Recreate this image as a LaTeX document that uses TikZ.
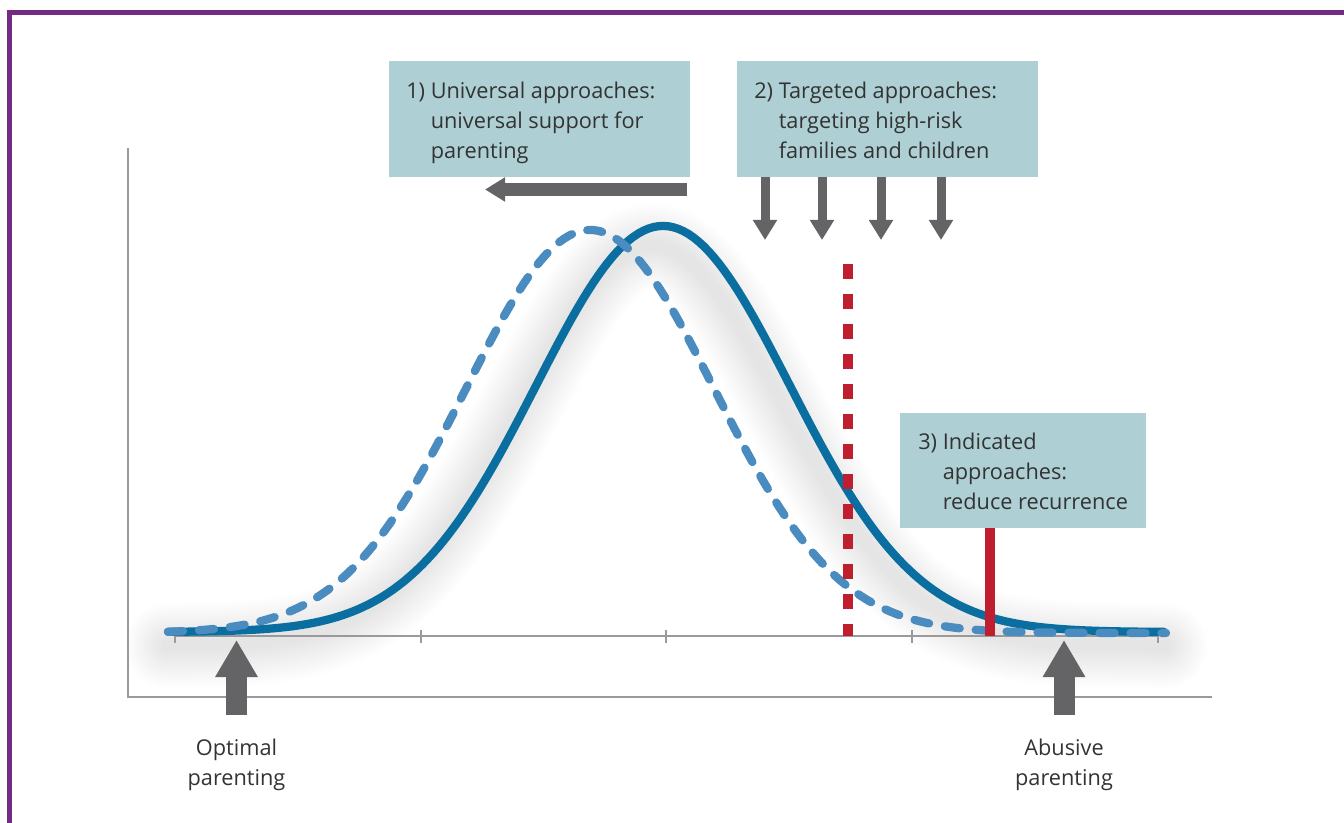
\documentclass[tikz,border=0pt]{standalone}
\usepackage{fontspec}
\setmainfont{Open Sans}
\usetikzlibrary{arrows.meta}
\definecolor{frame}{HTML}{742A85}
\definecolor{boxfill}{HTML}{AED0D4}
\definecolor{solidblue}{HTML}{0A6FA0}
\definecolor{dashblue}{HTML}{4A8CBF}
\definecolor{arrgray}{HTML}{646466}
\definecolor{redline}{HTML}{BE1E2D}
\definecolor{axisgray}{HTML}{9A9A9A}
\definecolor{txt}{HTML}{333333}
\tikzset{
  infobox/.style={fill=boxfill, anchor=north west, inner sep=0pt},
  boxtext/.style={anchor=west, inner sep=0pt, align=left, text=txt, font=\fontsize{16.3pt}{22.5pt}\selectfont},
  lbl/.style={align=center, text=txt, font=\fontsize{16.3pt}{22.5pt}\selectfont},
  axisline/.style={draw=axisgray, line width=1.5pt},
  tickline/.style={draw=axisgray, line width=1pt},
  solidcurve/.style={draw=solidblue, line width=6.2pt, line cap=round},
  dashcurve/.style={draw=dashblue, line width=6.2pt, line cap=round, dash pattern=on 11.25pt off 12pt},
  shadowline/.style={draw=black, line cap=round, line join=round},
  leftarrow/.style={draw=arrgray, line width=9.75pt, -{Triangle[length=15pt, width=17.25pt]}},
  downarrow/.style={draw=arrgray, line width=6.75pt, -{Triangle[length=15pt, width=17.25pt]}},
  uparrow/.style={draw=arrgray, line width=15.75pt, -{Triangle[length=27.75pt, width=30pt]}},
}
\begin{document}
\begin{tikzpicture}[x=0.75pt, y=-0.75pt]
\useasboundingbox (0,0) rectangle (1344,823);
% frame
\draw[frame, line width=4.1pt] (9.75,823) -- (9.75,12.5) -- (1344,12.5);
% soft shadow of curves
\foreach \w in {84,78,...,12} {
  \draw[shadowline, line width=\w*0.75pt, opacity=0.009]
    plot[domain=168:1165, samples=120] ({\x},{646-400*exp(-0.5*((\x-652)/130)^2)});
}
% axes
\coordinate (ytop) at (128,148);
\coordinate (orig) at (128,697);
\coordinate (xend) at (1212,697);
\draw[axisline] (ytop) -- (orig) -- (xend);
\coordinate (b0) at (175,636);
\coordinate (b1) at (1158,636);
\draw[tickline] (b0) -- (b1);
\foreach \t in {175,421,666,912,1158} {
  \draw[tickline] (\t,630) -- (\t,643);
}
% curves
\draw[solidcurve] plot[domain=168:1164, samples=200] ({\x},{632-406*exp(-0.5*((\x-663)/127)^2)});
\draw[dashcurve] plot[domain=168:1166, samples=200] ({\x},{633-403*exp(-0.5*((\x-590)/124)^2)});
% red lines
\coordinate (rtop) at (848,264);
\coordinate (rbot) at (848,636);
\draw[redline, line width=6.9pt, dash pattern=on 11.25pt off 11.25pt] (rtop) -- (rbot);
\coordinate (r3bot) at (990,636);
% boxes
\node[infobox, minimum width=225.75pt, minimum height=87pt] (box1) at (389,61) {};
\node[boxtext] (t1) at ([shift={(17,3)}]box1.west)
  {\begin{tabular}{@{}l@{\ }l@{}}1) & Universal approaches:\\ & universal support for\\ & parenting\end{tabular}};
\node[infobox, minimum width=225.75pt, minimum height=87pt] (box2) at (737,61) {};
\node[boxtext] (t2) at ([shift={(17,3)}]box2.west)
  {\begin{tabular}{@{}l@{\ }l@{}}2) & Targeted approaches:\\ & targeting high-risk\\ & families and children\end{tabular}};
\draw[redline, line width=6.9pt] (r3bot) -- (990,500);
\node[infobox, minimum width=184.5pt, minimum height=86.25pt] (box3) at (900,413) {};
\node[boxtext] (t3) at ([shift={(18,3)}]box3.west)
  {\begin{tabular}{@{}l@{\ }l@{}}3) & Indicated\\ & approaches:\\ & reduce recurrence\end{tabular}};
% arrows
\coordinate (la1) at (687,189.5);
\coordinate (la2) at (485,189.5);
\draw[leftarrow] (la1) -- (la2);
\foreach \ax [count=\i] in {765,822,881,941} {
  \coordinate (ds\i) at (\ax,177);
  \coordinate (de\i) at (\ax,240);
  \draw[downarrow] (ds\i) -- (de\i);
}
\coordinate (ua1) at (236.5,715);
\coordinate (ua2) at (236.5,640);
\draw[uparrow] (ua1) -- (ua2);
\coordinate (ub1) at (1064,715);
\coordinate (ub2) at (1064,640);
\draw[uparrow] (ub1) -- (ub2);
% labels
\node[lbl] (opt) at (236.5,765) {Optimal\\parenting};
\node[lbl] (abu) at (1064,765) {Abusive\\parenting};
\end{tikzpicture}
\end{document}
